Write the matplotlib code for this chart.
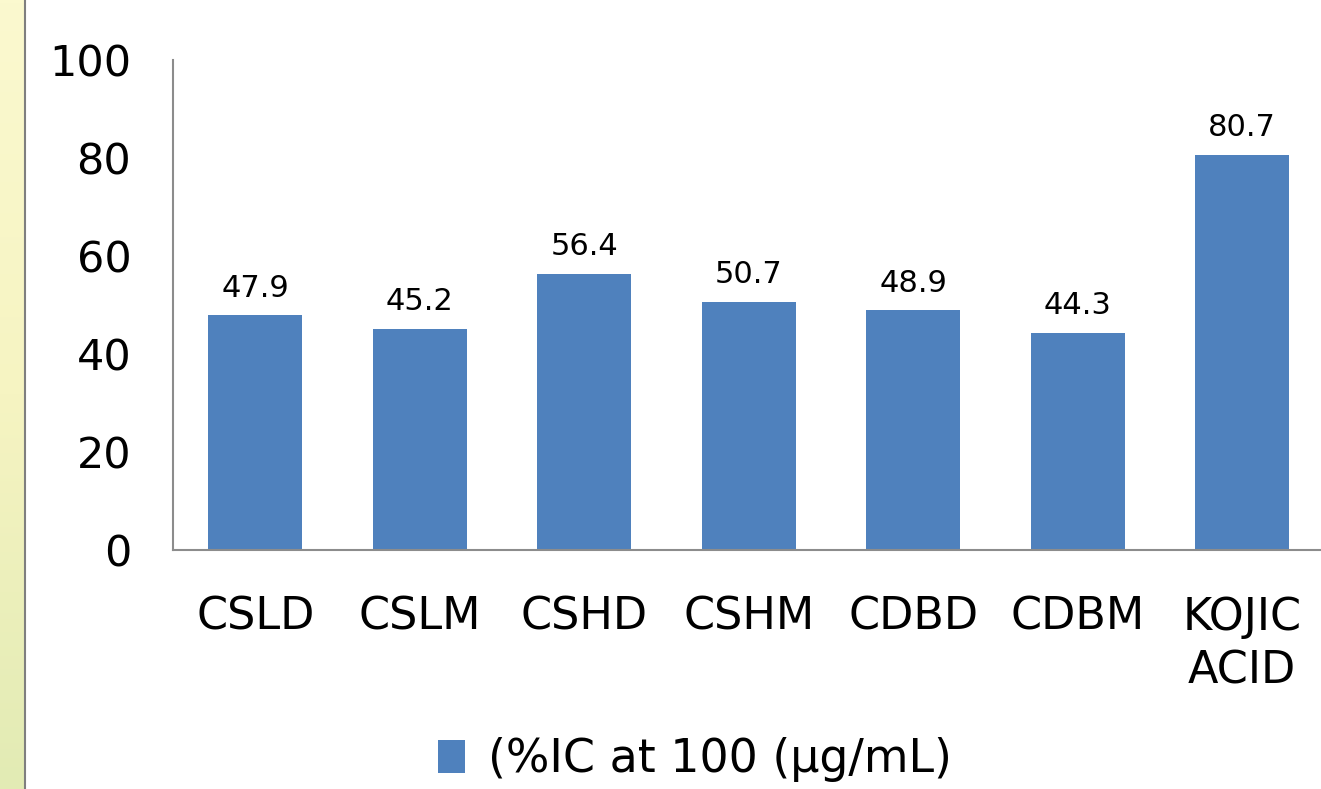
import matplotlib.pyplot as plt
import numpy as np
from matplotlib.colors import LinearSegmentedColormap

categories = ["CSLD", "CSLM", "CSHD", "CSHM", "CDBD", "CDBM", "KOJIC\nACID"]
values = [47.9, 45.2, 56.4, 50.7, 48.9, 44.3, 80.7]
series_name = "(%IC at 100 (\u00b5g/mL)"
yticks = [0, 20, 40, 60, 80, 100]

plt.rcParams['font.family'] = ['DejaVu Sans']

fig = plt.figure(figsize=(13.21, 7.89), dpi=100)

# yellow-green strip on the left edge
strip = fig.add_axes([0, 0, 24 / 1321, 1])
grad = np.linspace(0, 1, 256).reshape(-1, 1)
cmap = LinearSegmentedColormap.from_list("strip", ["#fbf9cf", "#f6f4c2", "#e2ebb4"])
strip.imshow(grad, aspect="auto", cmap=cmap, extent=[0, 1, 0, 1], origin="upper")
strip.axis("off")
fig.add_artist(plt.Line2D([24.5 / 1321, 24.5 / 1321], [0, 1], color="#7f7f7f", lw=1.5))

ax = fig.add_axes([173 / 1321, 239 / 789, 1151.5 / 1321, 490 / 789])
x = np.arange(len(categories))
bars = ax.bar(x, values, width=0.57, color="#4f81bd", label=series_name, zorder=2)

for xi, v in zip(x, values):
    ax.annotate(f"{v}", (xi, v), xytext=(0, 9), textcoords="offset points",
                ha="center", va="bottom", fontsize=22)

ax.set_xlim(-0.5, len(categories) - 0.5)
ax.set_ylim(0, 100)
ax.set_yticks(yticks)
ax.set_xticks(x)
ax.set_xticklabels(categories, fontsize=32, linespacing=1.3)
ax.tick_params(axis="y", labelsize=31, length=0, pad=30)
ax.tick_params(axis="x", length=0, pad=33)
for s in ["top", "right"]:
    ax.spines[s].set_visible(False)
for s in ["left", "bottom"]:
    ax.spines[s].set_color("#8c8c8c")
    ax.spines[s].set_linewidth(1.5)

fig.legend(handles=[bars], labels=[series_name], loc="center", bbox_to_anchor=(695 / 1321, 1 - 760 / 789),
           frameon=False, fontsize=33, handlelength=0.6, handleheight=0.7, handletextpad=0.5)

fig.savefig("out.png", dpi=100)
